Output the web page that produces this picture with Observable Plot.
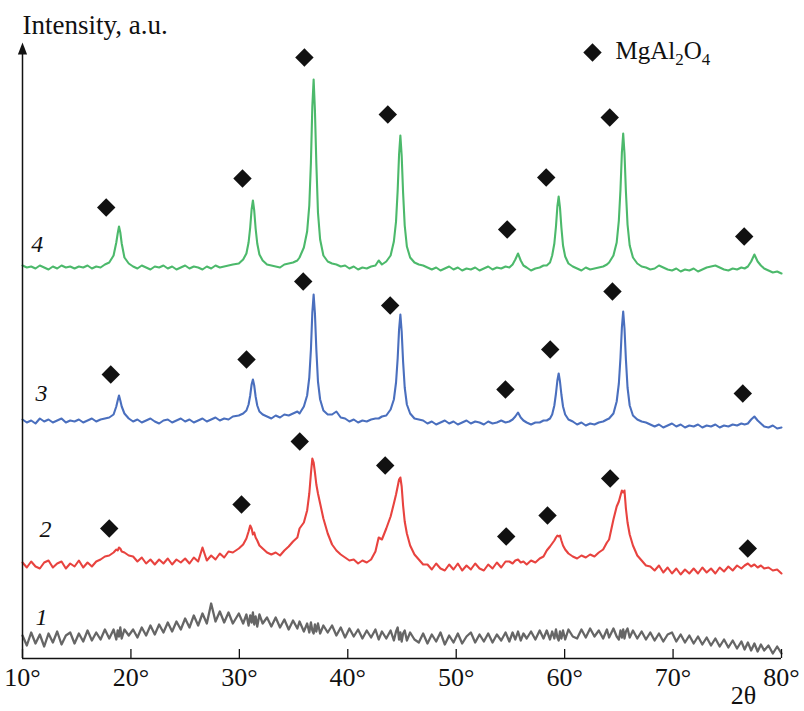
<!DOCTYPE html>
<html>
<head>
<meta charset="utf-8">
<script src="https://cdn.jsdelivr.net/npm/d3@7"></script>
<script src="https://cdn.jsdelivr.net/npm/@observablehq/plot@0.6"></script>
<style>
  html, body { margin: 0; padding: 0; background: #fff; }
</style>
</head>
<body>
<div id="chart"></div>
<script>
// 2θ grid (degrees) shared by the four patterns
const twoTheta = [
  10.0,10.4,10.8,11.2,11.6,12.0,12.4,12.8,13.2,13.6,14.0,14.4,14.8,15.2,15.6,16.0,16.4,16.8,17.2,17.6,
  18.0,18.4,18.65,18.78,18.9,19.02,19.15,19.4,19.8,
  20.2,20.6,21.0,21.4,21.8,22.2,22.6,23.0,23.4,23.8,24.2,24.6,25.0,25.4,25.8,26.2,26.6,27.0,27.4,27.8,28.2,28.6,29.0,29.4,
  29.95,30.35,30.65,30.85,31.0,31.13,31.25,31.37,31.5,31.65,31.85,32.15,32.55,
  32.95,33.35,33.75,34.15,34.55,34.95,35.35,
  35.55,35.95,36.25,36.45,36.6,36.73,36.85,36.97,37.1,37.25,37.45,37.75,38.15,
  38.55,38.95,39.35,39.75,40.15,40.55,40.95,41.35,41.75,42.15,42.55,
  42.85,43.15,
  43.55,43.95,44.25,44.45,44.6,44.73,44.85,44.97,45.1,45.25,45.45,45.75,46.15,
  46.55,46.95,47.35,47.75,48.15,48.55,48.95,49.35,49.75,50.15,50.55,50.95,51.35,51.75,52.15,52.55,52.95,53.35,53.75,54.15,54.55,
  54.9,55.2,55.45,55.7,55.95,56.2,56.5,
  56.9,57.3,57.7,58.05,
  58.35,58.65,58.85,59.05,59.2,59.33,59.45,59.57,59.7,59.85,60.05,60.35,60.75,
  61.15,61.55,61.95,62.35,62.75,63.15,63.55,63.9,
  64.1,64.5,64.8,65.0,65.15,65.28,65.4,65.52,65.65,65.8,66.0,66.3,66.7,
  67.1,67.5,67.9,68.3,68.7,69.1,69.5,69.9,70.3,70.7,71.1,71.5,71.9,72.3,72.7,73.1,73.5,73.9,74.3,74.7,75.1,75.5,75.9,76.3,
  76.6,76.9,77.2,77.5,77.8,78.1,78.4,
  78.8,79.2,79.6,80.0
];

// Intensities (a.u., patterns shifted vertically as in the figure)
const pattern1 = [
  23,13,26,15,24,12,25,16,27,14,23,26,15,25,17,28,18,26,19,29,
  20,29,19,28,22,31,20,29,23,
  29,21,31,23,33,24,34,26,36,27,37,29,40,31,43,33,45,35,55,37,47,36,46,35,
  45,35,44,33,43,36,46,34,42,32,44,35,41,
  32,41,31,39,29,38,30,
  37,27,35,26,36,28,25,34,27,35,25,33,26,
  33,23,31,21,30,22,29,20,28,21,29,
  19,27,
  20,28,18,27,31,19,26,17,25,28,18,26,19,
  16,25,15,24,17,26,14,23,16,25,15,22,26,16,24,17,25,16,24,18,26,
  17,26,19,27,18,25,20,
  27,19,28,20,
  28,19,27,20,29,21,18,27,20,28,19,29,22,
  20,29,21,30,22,28,20,29,
  21,30,22,19,28,21,29,20,27,30,21,28,20,
  27,19,26,18,25,17,24,26,17,24,16,23,15,22,14,21,13,20,12,19,11,18,10,17,
  9,16,8,15,7,14,8,
  13,5,12,5
];
const pattern2 = [
  96,91,97,92,90,96,98,91,95,97,90,95,92,98,91,96,92,97,99,102,
  103,106,109,108,111,110,107,106,103,
  102,97,101,95,99,94,99,95,100,94,99,96,100,95,101,97,111,98,103,99,105,101,107,106,
  110,114,120,127,133,130,124,126,121,118,113,110,106,
  104,106,103,108,112,117,121,
  130,136,148,165,185,200,196,186,174,165,155,140,125,
  114,108,104,101,98,99,95,98,96,99,107,
  121,119,
  130,142,155,164,172,179,181,172,153,137,125,113,104,
  99,94,94,89,95,90,88,94,89,95,88,93,89,95,90,88,94,90,96,91,97,
  97,95,98,99,96,97,94,
  98,96,100,102,
  108,112,115,118,121,123,122,123,118,113,109,105,102,
  100,103,101,104,102,106,109,116,
  119,139,152,157,163,168,166,168,150,136,124,113,103,
  98,93,92,88,93,86,91,85,90,84,89,85,90,85,91,86,90,85,91,87,92,88,93,90,
  93,95,92,94,91,93,90,
  91,88,89,85
];
const pattern3 = [
  239,236,238,235,240,237,239,236,238,240,236,238,237,239,236,238,240,237,239,240,
  241,244,252,258,263,258,252,245,240,
  237,239,236,238,240,237,235,238,239,236,238,240,237,239,236,238,240,237,239,241,238,240,239,242,
  243,245,248,254,263,274,279,273,262,253,247,244,242,
  240,243,241,244,243,245,247,
  245,252,263,281,309,346,364,345,309,277,259,248,244,
  244,247,241,240,237,239,236,238,237,239,240,
  240,242,
  243,249,259,276,300,329,344,327,297,271,254,245,240,
  239,238,235,237,234,236,238,235,237,234,236,238,235,237,236,234,237,235,236,238,236,
  237,239,242,246,241,238,236,
  234,236,236,238,
  238,240,244,253,265,278,285,277,264,252,244,239,237,
  234,236,233,235,234,236,237,239,
  240,245,257,275,301,331,347,330,299,271,253,243,239,
  237,236,234,232,234,231,233,235,232,234,231,233,232,234,231,233,232,234,231,233,232,234,233,235,
  234,235,239,242,238,235,232,
  231,233,230,231
];
const pattern4 = [
  393,391,392,390,393,391,389,392,390,393,391,392,390,392,391,393,390,392,391,394,
  396,403,416,425,432,426,415,401,395,
  392,390,393,391,389,392,391,393,390,392,389,391,393,390,392,391,389,392,390,393,391,392,393,394,
  395,399,405,416,431,449,458,448,430,415,404,398,394,
  393,392,391,394,395,396,398,
  401,411,427,453,496,552,579,548,495,446,419,403,397,
  395,394,392,393,390,392,389,391,390,392,393,
  398,394,
  397,403,417,437,468,504,523,503,466,433,412,401,396,
  394,393,391,389,391,388,390,392,389,391,388,390,389,391,388,390,392,389,391,390,392,
  391,394,399,405,398,393,391,
  388,390,391,393,
  393,396,403,415,432,452,462,451,431,413,402,395,392,
  390,388,391,389,390,391,392,394,
  396,403,416,438,469,506,525,505,467,434,413,401,395,
  392,391,389,390,393,391,389,388,390,387,389,388,390,387,389,391,392,393,391,389,388,390,389,391,
  390,392,397,404,397,393,390,
  388,386,387,385
];

// MgAl2O4 reflection markers (2θ, marker level) per pattern
const markerTheta2 = [18.0, 30.2, 35.57, 43.45, 54.61, 58.42, 64.2, 76.89];
const markerLevel2 = [130, 154, 217, 193, 122, 143, 180, 110];
const markerTheta3 = [18.14, 30.66, 35.89, 43.91, 54.54, 58.67, 64.41, 76.43];
const markerLevel3 = [284, 299, 377, 353, 269, 309, 367, 265];
const markerTheta4 = [17.72, 30.29, 36.0, 43.69, 54.70, 58.30, 64.16, 76.56];
const markerLevel4 = [451, 480, 601, 544, 429, 481, 541, 422];

const patternNames = ["1", "2", "3", "4"];
const patternColors = ["#666666", "#e8433f", "#4a6fbe", "#4cb96b"];
const xTicks = [10, 20, 30, 40, 50, 60, 70, 80];

const series = [pattern1, pattern2, pattern3, pattern4];
series.forEach((s, k) => { if (s.length !== twoTheta.length) throw new Error("pattern" + (k + 1) + " length " + s.length + " vs " + twoTheta.length); });

const rows = series.flatMap((vals, k) => twoTheta.map((t, i) => ({t, v: vals[i], pattern: patternNames[k]})));
const markers = [
  ...markerTheta2.map((t, i) => ({t, v: markerLevel2[i]})),
  ...markerTheta3.map((t, i) => ({t, v: markerLevel3[i]})),
  ...markerTheta4.map((t, i) => ({t, v: markerLevel4[i]}))
];
// curve-number label placement (annotation)
const curveLabels = [
  {label: "1", t: 11.75, v: 41.5},
  {label: "2", t: 12.12, v: 129},
  {label: "3", t: 11.75, v: 265.5},
  {label: "4", t: 11.35, v: 414}
];

const serif = "'Liberation Serif', 'Times New Roman', Times, serif";
const ink = "#111";
const arrowHead = {
  draw(context) {
    context.moveTo(0, 0);
    context.lineTo(4.6, 12);
    context.lineTo(-4.6, 12);
    context.closePath();
  }
};

const chart = Plot.plot({
  width: 804,
  height: 711,
  marginLeft: 22,
  marginRight: 23,
  marginTop: 42,
  marginBottom: 53,
  style: {fontFamily: serif, background: "#fff", color: ink},
  x: {domain: [10, 80]},
  y: {domain: [0, 616], axis: null},
  color: {domain: patternNames, range: patternColors},
  marks: [
    Plot.line(rows.filter(d => d.pattern === "1"), {x: "t", y: "v", stroke: "pattern", strokeWidth: 2.3}),
    Plot.line(rows.filter(d => d.pattern !== "1"), {x: "t", y: "v", z: "pattern", stroke: "pattern", strokeWidth: 2.1}),
    Plot.ruleY([0], {stroke: ink, strokeWidth: 1.5}),
    Plot.ruleX([10], {y1: 0, y2: 606, stroke: ink, strokeWidth: 1.5}),
    Plot.dot([0], {frameAnchor: "top-left", symbol: arrowHead, fill: ink, stroke: "none"}),
    Plot.ruleX(xTicks, {y1: 0, y2: 9, stroke: ink, strokeWidth: 1.3}),
    Plot.axisX({ticks: xTicks, tickSize: 0, tickPadding: 9, tickFormat: d => `${d}°`, fontSize: 26, fill: ink, label: null}),
    Plot.dot(markers, {x: "t", y: "v", symbol: "diamond2", r: 8.3, fill: ink, stroke: "none"}),
    Plot.text(curveLabels, {x: "t", y: "v", text: "label", fontSize: 24, fontStyle: "italic", fill: ink, textAnchor: "middle", lineAnchor: "middle"}),
    Plot.text(["Intensity, a.u."], {frameAnchor: "top-left", text: d => d, textAnchor: "start", lineAnchor: "middle", dy: -17.6, fontSize: 27, fill: ink}),
    Plot.text(["2θ"], {frameAnchor: "bottom-right", text: d => d, textAnchor: "middle", lineAnchor: "middle", dx: -38, dy: 37, fontSize: 26, fill: ink}),
    Plot.dot([0], {frameAnchor: "top-right", dx: -189, dy: 10, symbol: "diamond2", r: 8.3, fill: ink, stroke: "none"}),
    Plot.text(["MgAl2O4"], {frameAnchor: "top-right", text: d => d, textAnchor: "start", lineAnchor: "middle", dx: -166, dy: 8, fontSize: 25, fill: ink})
  ]
});

document.getElementById("chart").appendChild(chart);

// chemical formula subscripts in the legend
d3.select(chart).selectAll("text").filter(function () { return this.textContent === "MgAl2O4"; }).each(function () {
  const t = d3.select(this);
  t.text(null);
  t.append("tspan").text("MgAl");
  t.append("tspan").attr("dy", 6).attr("font-size", 17).text("2");
  t.append("tspan").attr("dy", -6).text("O");
  t.append("tspan").attr("dy", 6).attr("font-size", 17).text("4");
});
</script>
</body>
</html>
